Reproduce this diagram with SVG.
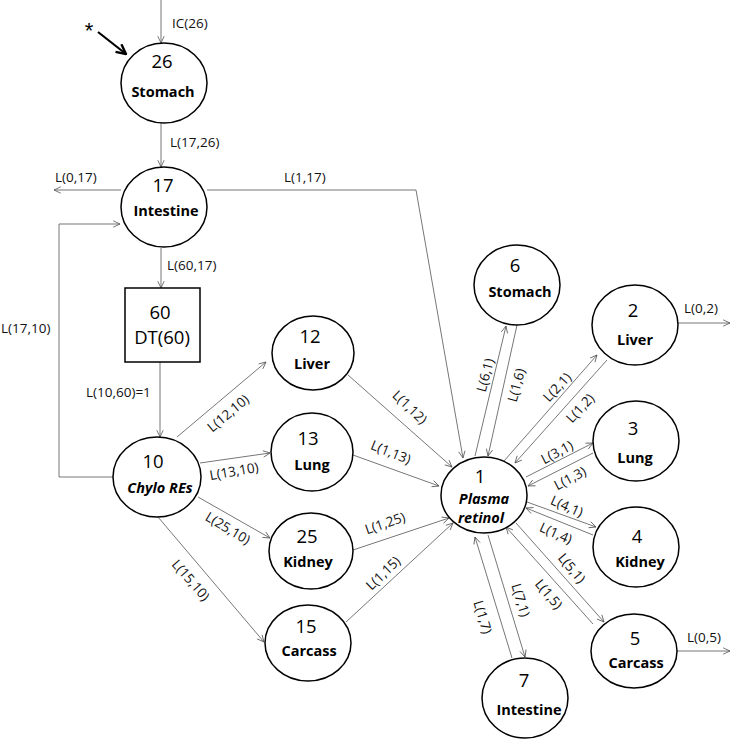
<svg xmlns="http://www.w3.org/2000/svg" width="734" height="740" viewBox="0 0 734 740">
<defs>
<marker id="ah" viewBox="0 0 10 10" refX="9.5" refY="5" markerWidth="8" markerHeight="8" orient="auto" markerUnits="userSpaceOnUse">
<path d="M1,1 L9.5,5 L1,9" fill="none" stroke="#555" stroke-width="1"/>
</marker>
<marker id="ahb" viewBox="0 0 10 10" refX="9" refY="5" markerWidth="12" markerHeight="12" orient="auto" markerUnits="userSpaceOnUse">
<path d="M1,1 L9,5 L1,9" fill="none" stroke="#000" stroke-width="2"/>
</marker>
<style>
.n{fill:#fff;stroke:#000;stroke-width:1.5}
.c{fill:none;stroke:#777;stroke-width:1;marker-end:url(#ah)}
.num{font-family:"Open Sans","Liberation Sans",sans-serif;font-size:18.5px;text-anchor:middle;fill:#000}
.nm{font-family:"Open Sans","Liberation Sans",sans-serif;font-size:14.5px;font-weight:bold;text-anchor:middle;fill:#000}
.it{font-style:italic}
.lb{font-family:"Open Sans","Liberation Sans",sans-serif;font-size:13.5px;fill:#111}
.lm{font-family:"Open Sans","Liberation Sans",sans-serif;font-size:13.5px;fill:#111;text-anchor:middle;dominant-baseline:central}
</style>
</defs>
<g id="connectors">
<line class="c" x1="161" y1="0" x2="161" y2="43"/>
<line x1="98" y1="32" x2="126" y2="54" stroke="#000" stroke-width="2.2" marker-end="url(#ahb)"/>
<line class="c" x1="161" y1="123" x2="161" y2="167"/>
<line class="c" x1="121" y1="190" x2="54" y2="190"/>
<polyline class="c" points="207,190 416,190 463,458"/>
<line class="c" x1="161" y1="248" x2="161" y2="288"/>
<line class="c" x1="160" y1="362" x2="160" y2="437"/>
<polyline class="c" points="113,477 59,477 59,224 120,224"/>
<line class="c" x1="177" y1="437" x2="266" y2="362"/>
<line class="c" x1="200" y1="463" x2="270" y2="453"/>
<line class="c" x1="198" y1="497" x2="270" y2="538"/>
<line class="c" x1="158" y1="517" x2="264" y2="642"/>
<line class="c" x1="348" y1="375" x2="452" y2="467"/>
<line class="c" x1="353" y1="455" x2="439" y2="486"/>
<line class="c" x1="353" y1="550" x2="449" y2="518"/>
<line class="c" x1="346" y1="622" x2="453" y2="523"/>
<line class="c" x1="475" y1="456" x2="506" y2="326"/>
<line class="c" x1="517" y1="325" x2="488" y2="456"/>
<line class="c" x1="504" y1="461" x2="597" y2="355"/>
<line class="c" x1="607" y1="360" x2="515" y2="463"/>
<line class="c" x1="526" y1="477" x2="593" y2="443"/>
<line class="c" x1="593" y1="453" x2="528" y2="486"/>
<line class="c" x1="527" y1="502" x2="596" y2="527"/>
<line class="c" x1="593" y1="535" x2="526" y2="508"/>
<line class="c" x1="516" y1="523" x2="604" y2="622"/>
<line class="c" x1="593" y1="624" x2="506" y2="527"/>
<line class="c" x1="488" y1="535" x2="525" y2="657"/>
<line class="c" x1="512" y1="658" x2="475" y2="537"/>
<line class="c" x1="678" y1="323" x2="730" y2="323"/>
<line class="c" x1="677" y1="651" x2="730" y2="651"/>
</g>
<g id="labels">
<text x="89" y="38" font-family="Liberation Sans, sans-serif" font-size="22" text-anchor="middle">*</text>
<text class="lb" x="172" y="28">IC(26)</text>
<text class="lb" x="170" y="147">L(17,26)</text>
<text class="lb" x="55" y="182">L(0,17)</text>
<text class="lb" x="284" y="182">L(1,17)</text>
<text class="lb" x="167" y="270">L(60,17)</text>
<text class="lb" x="1" y="333">L(17,10)</text>
<text class="lb" x="86" y="397">L(10,60)=1</text>
<text class="lm" transform="translate(228,413) rotate(-40)">L(12,10)</text>
<text class="lm" transform="translate(234,471) rotate(-10)">L(13,10)</text>
<text class="lm" transform="translate(228,528) rotate(31)">L(25,10)</text>
<text class="lm" transform="translate(191,580) rotate(49)">L(15,10)</text>
<text class="lm" transform="translate(410,407) rotate(44)">L(1,12)</text>
<text class="lm" transform="translate(391,452) rotate(22)">L(1,13)</text>
<text class="lm" transform="translate(385,523) rotate(-19)">L(1,25)</text>
<text class="lm" transform="translate(383,573) rotate(-44)">L(1,15)</text>
<text class="lm" transform="translate(485,375) rotate(-75)">L(6,1)</text>
<text class="lm" transform="translate(516,385) rotate(-75)">L(1,6)</text>
<text class="lm" transform="translate(557,387) rotate(-47)">L(2,1)</text>
<text class="lm" transform="translate(580,408) rotate(-47)">L(1,2)</text>
<text class="lm" transform="translate(557,452) rotate(-28)">L(3,1)</text>
<text class="lm" transform="translate(570,478) rotate(-28)">L(1,3)</text>
<text class="lm" transform="translate(567,506) rotate(24)">L(4,1)</text>
<text class="lm" transform="translate(556,533) rotate(24)">L(1,4)</text>
<text class="lm" transform="translate(572,568) rotate(50)">L(5,1)</text>
<text class="lm" transform="translate(549,594) rotate(50)">L(1,5)</text>
<text class="lm" transform="translate(521,600) rotate(73)">L(7,1)</text>
<text class="lm" transform="translate(483,617) rotate(73)">L(1,7)</text>
<text class="lm" x="701" y="308">L(0,2)</text>
<text class="lm" x="704" y="637">L(0,5)</text>
</g>
<g id="node26"><ellipse class="n" cx="164" cy="83" rx="43" ry="40"/><text class="num" x="162" y="68">26</text><text class="nm" x="163" y="97">Stomach</text></g>
<g id="node17"><ellipse class="n" cx="164" cy="207" rx="43" ry="40"/><text class="num" x="163" y="192">17</text><text class="nm" x="166" y="216">Intestine</text></g>
<g id="node60"><rect class="n" x="125" y="288" width="75" height="74"/><text class="num" x="160" y="319">60</text><text class="num" x="162" y="344">DT(60)</text></g>
<g id="node10"><ellipse class="n" cx="157" cy="477" rx="44" ry="40"/><text class="num" x="153" y="468">10</text><text class="nm it" x="160" y="493">Chylo REs</text></g>
<g id="node12"><ellipse class="n" cx="313" cy="353" rx="41" ry="37"/><text class="num" x="310" y="343">12</text><text class="nm" x="312" y="369">Liver</text></g>
<g id="node13"><ellipse class="n" cx="312" cy="452" rx="41" ry="39"/><text class="num" x="308" y="445">13</text><text class="nm" x="312" y="470">Lung</text></g>
<g id="node25"><ellipse class="n" cx="311" cy="551" rx="42" ry="38"/><text class="num" x="307" y="543">25</text><text class="nm" x="308" y="567">Kidney</text></g>
<g id="node15"><ellipse class="n" cx="308" cy="643" rx="43" ry="38"/><text class="num" x="306" y="633">15</text><text class="nm" x="309" y="656">Carcass</text></g>
<g id="node1"><ellipse class="n" cx="484" cy="495" rx="43" ry="38"/><text class="num" x="480" y="483">1</text><text class="nm it" x="484" y="504">Plasma</text><text class="nm it" x="481" y="523">retinol</text></g>
<g id="node6"><ellipse class="n" cx="517" cy="285" rx="43" ry="40"/><text class="num" x="515" y="272">6</text><text class="nm" x="520" y="297">Stomach</text></g>
<g id="node2"><ellipse class="n" cx="635" cy="325" rx="43" ry="40"/><text class="num" x="633" y="317">2</text><text class="nm" x="635" y="345">Liver</text></g>
<g id="node3"><ellipse class="n" cx="636" cy="441" rx="43" ry="40"/><text class="num" x="633" y="435">3</text><text class="nm" x="635" y="463">Lung</text></g>
<g id="node4"><ellipse class="n" cx="636" cy="547" rx="43" ry="40"/><text class="num" x="637" y="543">4</text><text class="nm" x="640" y="567">Kidney</text></g>
<g id="node5"><ellipse class="n" cx="634" cy="651" rx="43" ry="37"/><text class="num" x="635" y="645">5</text><text class="nm" x="636" y="668">Carcass</text></g>
<g id="node7"><ellipse class="n" cx="525" cy="698" rx="43" ry="40"/><text class="num" x="524" y="687">7</text><text class="nm" x="529" y="715">Intestine</text></g>
</svg>
